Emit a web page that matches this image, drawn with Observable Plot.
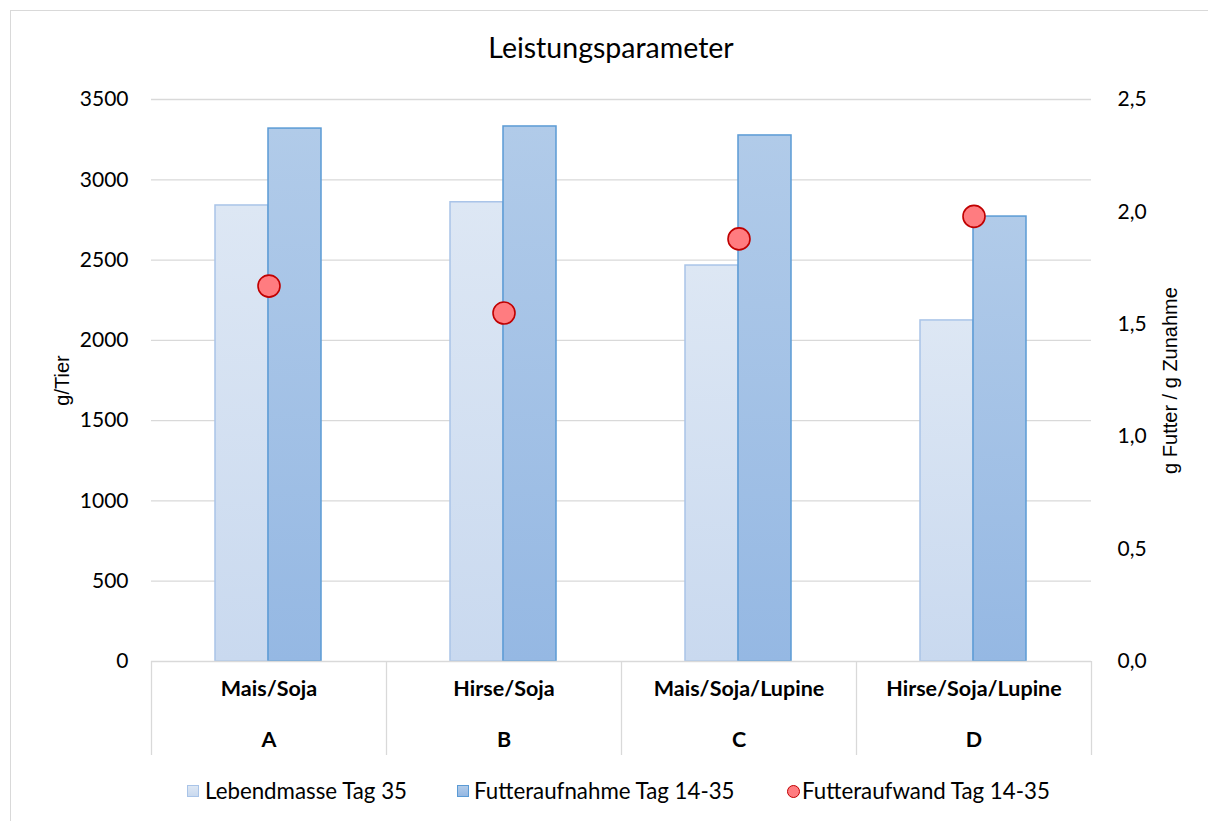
<!DOCTYPE html>
<html>
<head>
<meta charset="utf-8">
<script src="https://cdn.jsdelivr.net/npm/d3@7"></script>
<script src="https://cdn.jsdelivr.net/npm/@observablehq/plot@0.6"></script>
<style>
  body { margin: 0; background: #fff; font-family: Lato, sans-serif; color: #000; }
  #frame { position: absolute; left: 10px; top: 10px; width: 1220px; height: 830px; border: 1px solid #d9d9d9; box-sizing: border-box; }
  #title { position: absolute; left: 0; top: 29px; width: 1222px; text-align: center; font-size: 28.5px; line-height: 36px; }
  #chart { position: absolute; left: 0; top: 70px; }
  .lg { position: absolute; top: 778px; font-size: 22.3px; line-height: 26px; white-space: nowrap; }
  .sw { position: absolute; top: 785px; width: 12px; height: 12px; box-sizing: border-box; }
</style>
</head>
<body>
<div id="frame"></div>
<div id="title">Leistungsparameter</div>
<div id="chart"></div>
<div class="sw" style="left:187px;background:linear-gradient(#dde7f4,#c9d9ef);border:1px solid #a9c4e8;"></div>
<div class="lg" style="left:205px;">Lebendmasse Tag 35</div>
<div class="sw" style="left:457px;background:linear-gradient(#b1cbe9,#95b8e3);border:1px solid #5b9bd5;"></div>
<div class="lg" style="left:474px;">Futteraufnahme Tag 14-35</div>
<div class="sw" style="left:787px;width:13px;height:13px;border-radius:50%;background:#ff7c80;border:1.5px solid #c00000;"></div>
<div class="lg" style="left:802px;">Futteraufwand Tag 14-35</div>
<script>
const categories = ["Mais/Soja", "Hirse/Soja", "Mais/Soja/Lupine", "Hirse/Soja/Lupine"];
const groups = ["A", "B", "C", "D"];
const lebendmasse = [2840, 2860, 2466, 2124];      // g/Tier
const futteraufnahme = [3319, 3332, 3276, 2771];   // g/Tier
const futteraufwand = [1.67, 1.55, 1.88, 1.98];    // g Futter / g Zunahme
const leftTicks = [0, 500, 1000, 1500, 2000, 2500, 3000, 3500];
const rightTicks = [0, 0.5, 1.0, 1.5, 2.0, 2.5];

const ratio = 3500 / 2.5; // right axis mapped onto left scale
const rows = categories.map((c, i) => ({
  cat: c, grp: groups[i], lm: lebendmasse[i], fa: futteraufnahme[i], fw: futteraufwand[i]
}));

const defsMark = () => {
  const g = d3.create("svg:g");
  g.html(`<defs>
    <linearGradient id="gLight" x1="0" y1="0" x2="0" y2="1">
      <stop offset="0" stop-color="#dde7f4"/><stop offset="1" stop-color="#c9d9ef"/>
    </linearGradient>
    <linearGradient id="gDark" x1="0" y1="0" x2="0" y2="1">
      <stop offset="0" stop-color="#b1cbe9"/><stop offset="1" stop-color="#95b8e3"/>
    </linearGradient></defs>`);
  return g.node();
};

const grid = "#d9d9d9";
const chart = Plot.plot({
  width: 1208, height: 700,
  marginLeft: 151, marginRight: 117, marginTop: 29, marginBottom: 109,
  style: { fontFamily: "Lato, sans-serif", fontSize: "21px", color: "#000", background: "transparent", overflow: "visible" },
  x: { domain: categories, padding: 0, axis: null },
  y: { domain: [0, 3500], axis: null },
  marks: [
    defsMark,
    Plot.ruleY(leftTicks.filter(d => d > 0), { stroke: grid, strokeWidth: 1.3 }),
    Plot.barY(rows, { x: "cat", y: "lm", fill: "url(#gLight)", stroke: "#a9c4e8", strokeWidth: 1.5, insetLeft: 64, insetRight: 118 }),
    Plot.barY(rows, { x: "cat", y: "fa", fill: "url(#gDark)", stroke: "#5b9bd5", strokeWidth: 1.5, insetLeft: 117, insetRight: 65 }),
    Plot.ruleY([0], { stroke: grid, strokeWidth: 1.3 }),
    Plot.ruleX(categories, { x: d => d, dx: -117.5, stroke: grid, strokeWidth: 1.3, insetTop: 562, insetBottom: -94 }),
    Plot.ruleX([categories[categories.length - 1]], { x: d => d, dx: 117.5, stroke: grid, strokeWidth: 1.3, insetTop: 562, insetBottom: -94 }),
    Plot.dot(rows, { x: "cat", y: d => d.fw * ratio, r: 11, fill: "#ff7c80", stroke: "#c00000", strokeWidth: 1.6 }),
    Plot.axisY(leftTicks, { anchor: "left", tickSize: 0, tickPadding: 23, label: null, fontSize: 21, tickFormat: d => String(d) }),
    Plot.axisY(rightTicks.map(v => v * ratio), { anchor: "right", tickSize: 0, tickPadding: 26, label: null, fontSize: 21,
      tickFormat: d => (d / ratio).toFixed(1).replace(".", ",") }),
    Plot.text(["g/Tier"], { frameAnchor: "left", textAnchor: "middle", dx: -89, rotate: -90, fontFamily: "Liberation Sans, Arial, sans-serif", fontSize: 20 }),
    Plot.text(["g Futter / g Zunahme"], { frameAnchor: "right", textAnchor: "middle", dx: 79, rotate: -90, fontFamily: "Liberation Sans, Arial, sans-serif", fontSize: 20 }),
    Plot.text(rows, { x: "cat", text: "cat", frameAnchor: "bottom", dy: 34, fontWeight: "bold", fontSize: 21.5 }),
    Plot.text(rows, { x: "cat", text: "grp", frameAnchor: "bottom", dy: 85, fontWeight: "bold", fontSize: 21.5 })
  ]
});
document.getElementById("chart").appendChild(chart);
</script>
</body>
</html>
